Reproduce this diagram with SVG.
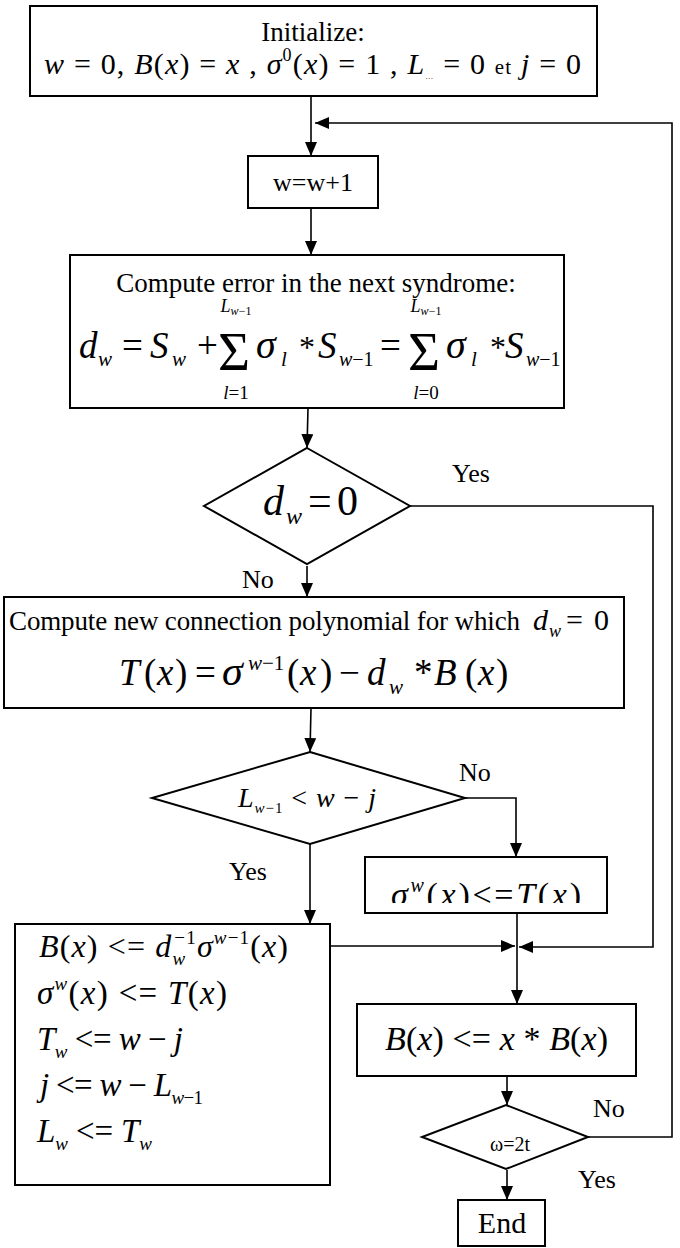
<svg xmlns="http://www.w3.org/2000/svg" width="680" height="1248" viewBox="0 0 680 1248">
<style>
.t{font-family:"Liberation Serif","Times New Roman",serif;fill:#000}
.i{font-style:italic}
.box{fill:#fff;stroke:#000;stroke-width:2}
.ln{fill:none;stroke:#000;stroke-width:1.6}
</style>
<defs>
<marker id="a" viewBox="0 0 14 12" refX="14" refY="6" markerWidth="14" markerHeight="12" markerUnits="userSpaceOnUse" orient="auto"><path d="M0,0 L14,6 L0,12 z" fill="#000"/></marker>
<clipPath id="cs"><rect x="366" y="858" width="240" height="45"/></clipPath>
</defs>
<rect width="680" height="1248" fill="#fff"/>

<g id="connectors">
<path class="ln" d="M311,96 V156" marker-end="url(#a)"/>
<path class="ln" d="M588,1137 H672 V123 H315" marker-end="url(#a)"/>
<path class="ln" d="M311,208 V255" marker-end="url(#a)"/>
<path class="ln" d="M308,408 L307,448" marker-end="url(#a)"/>
<path class="ln" d="M307,566 V597" marker-end="url(#a)"/>
<path class="ln" d="M410,506 H653 V947 H519" marker-end="url(#a)"/>
<path class="ln" d="M311,708 L310,752" marker-end="url(#a)"/>
<path class="ln" d="M465,798 H516 V857" marker-end="url(#a)"/>
<path class="ln" d="M310,844 V924" marker-end="url(#a)"/>
<path class="ln" d="M330,946 H515" marker-end="url(#a)"/>
<path class="ln" d="M517,913 V1004" marker-end="url(#a)"/>
<path class="ln" d="M507,1076 V1105" marker-end="url(#a)"/>
<path class="ln" d="M507,1170 V1200" marker-end="url(#a)"/>
<text class="t" x="452" y="482" font-size="26">Yes</text>
<text class="t" x="242" y="588" font-size="26">No</text>
<text class="t" x="459" y="781" font-size="26">No</text>
<text class="t" x="229" y="880" font-size="26">Yes</text>
<text class="t" x="593" y="1117" font-size="26">No</text>
<text class="t" x="578" y="1188" font-size="26">Yes</text>
</g>

<g id="init">
<rect class="box" x="30" y="6" width="567" height="90"/>
<text class="t" x="313" y="41" font-size="27" text-anchor="middle">Initialize:</text>
<text class="t" x="44" y="74" font-size="30" textLength="537" lengthAdjust="spacing"><tspan class="i">w</tspan> = 0, <tspan class="i">B</tspan>(<tspan class="i">x</tspan>) = <tspan class="i">x</tspan> , <tspan class="i">σ</tspan><tspan font-size="18" dy="-13">0</tspan><tspan dy="13">(</tspan><tspan class="i">x</tspan>) = 1 , <tspan class="i">L</tspan><tspan font-size="8" dy="5">…</tspan><tspan dy="-5"> = 0 </tspan><tspan font-size="21">et</tspan>  <tspan class="i">j</tspan> = 0</text>
</g>

<g id="inc">
<rect class="box" x="248" y="156" width="130" height="52"/>
<text class="t" x="313" y="191" font-size="26" text-anchor="middle">w=w+1</text>
</g>

<g id="error">
<rect class="box" x="70" y="255" width="494" height="153"/>
<text class="t" x="316" y="292" font-size="27" text-anchor="middle">Compute error in the next syndrome:</text>
<text class="t" font-size="37"><tspan class="i" x="79" y="358">d</tspan><tspan class="i" x="98" y="366" font-size="21">w</tspan><tspan x="122" y="358">=</tspan><tspan class="i" x="150" y="358">S</tspan><tspan class="i" x="172" y="366" font-size="21">w</tspan><tspan x="197" y="358">+</tspan><tspan class="i" x="256" y="358" font-size="40">σ</tspan><tspan class="i" x="281" y="366" font-size="21">l</tspan><tspan x="299" y="358" font-size="32">*</tspan><tspan class="i" x="318" y="358">S</tspan><tspan x="339" y="366" font-size="20"><tspan class="i">w</tspan>−1</tspan><tspan x="380" y="358">=</tspan><tspan class="i" x="446" y="358" font-size="40">σ</tspan><tspan class="i" x="471" y="366" font-size="21">l</tspan><tspan x="490" y="358" font-size="32">*</tspan><tspan class="i" x="505" y="358">S</tspan><tspan x="526" y="366" font-size="20"><tspan class="i">w</tspan>−1</tspan></text>
<text class="t" x="218" y="370" font-size="55">Σ</text>
<text class="t" x="408" y="370" font-size="55">Σ</text>
<text class="t" x="236" y="312" font-size="18" text-anchor="middle"><tspan class="i">L</tspan><tspan font-size="12" dy="3"><tspan class="i">w</tspan>−1</tspan></text>
<text class="t" x="426" y="312" font-size="18" text-anchor="middle"><tspan class="i">L</tspan><tspan font-size="12" dy="3"><tspan class="i">w</tspan>−1</tspan></text>
<text class="t" x="236" y="399" font-size="19" text-anchor="middle"><tspan class="i">l</tspan>=1</text>
<text class="t" x="426" y="399" font-size="19" text-anchor="middle"><tspan class="i">l</tspan>=0</text>
</g>

<g id="check-dw">
<polygon class="box" points="307,448 410,506 307,564 204,506"/>
<text class="t" font-size="42"><tspan class="i" x="263" y="515">d</tspan><tspan class="i" x="286" y="524" font-size="24">w</tspan><tspan x="308" y="515">=</tspan><tspan x="337" y="515">0</tspan></text>
</g>

<g id="newpoly">
<rect class="box" x="4" y="597" width="620" height="111"/>
<text class="t" x="9" y="630" font-size="27" textLength="511" lengthAdjust="spacing">Compute new connection polynomial for which</text>
<text class="t" font-size="30"><tspan class="i" x="533" y="630">d</tspan><tspan class="i" x="549" y="637" font-size="18">w</tspan><tspan x="566" y="630">=</tspan><tspan x="594" y="630">0</tspan></text>
<text class="t" font-size="37"><tspan class="i" x="119" y="685">T</tspan><tspan x="144" y="685">(</tspan><tspan class="i" x="157" y="685">x</tspan><tspan x="175" y="685">)</tspan><tspan x="195" y="685">=</tspan><tspan class="i" x="222" y="685" font-size="42">σ</tspan><tspan x="248" y="670" font-size="21"><tspan class="i">w</tspan>−1</tspan><tspan x="287" y="685">(</tspan><tspan class="i" x="300" y="685">x</tspan><tspan x="320" y="685">)</tspan><tspan x="339" y="685">−</tspan><tspan class="i" x="367" y="685">d</tspan><tspan class="i" x="389" y="694" font-size="21">w</tspan><tspan x="414" y="685">*</tspan><tspan class="i" x="434" y="685">B</tspan><tspan x="465" y="685">(</tspan><tspan class="i" x="478" y="685">x</tspan><tspan x="496" y="685">)</tspan></text>
</g>

<g id="check-L">
<polygon class="box" points="310,752 465,798 310,844 152,798"/>
<text class="t" x="238" y="807" font-size="28" textLength="138" lengthAdjust="spacing"><tspan class="i">L</tspan><tspan font-size="15" dy="6"><tspan class="i">w</tspan>−1</tspan><tspan dy="-6"> &lt; </tspan><tspan class="i">w</tspan> − <tspan class="i">j</tspan></text>
</g>

<g id="sigma-box">
<rect class="box" x="365" y="857" width="242" height="56"/>
<text class="t" x="391" y="906" font-size="34" textLength="190" lengthAdjust="spacing" clip-path="url(#cs)"><tspan class="i">σ</tspan><tspan class="i" font-size="20" dy="-14">w</tspan><tspan dy="14">(</tspan><tspan class="i">x</tspan>)&lt;=<tspan class="i">T</tspan>(<tspan class="i">x</tspan>)</text>
</g>

<g id="update-box">
<rect class="box" x="15" y="924" width="315" height="261"/>
<text class="t" x="39" y="957" font-size="32" textLength="249" lengthAdjust="spacing"><tspan class="i">B</tspan>(<tspan class="i">x</tspan>) &lt;= <tspan class="i">d</tspan><tspan class="i" font-size="19" dy="8">w</tspan><tspan font-size="19" dx="-12" dy="-21">−1</tspan><tspan class="i" dy="13">σ</tspan><tspan font-size="19" dy="-13"><tspan class="i">w</tspan>−1</tspan><tspan dy="13">(</tspan><tspan class="i">x</tspan>)</text>
<text class="t" x="37" y="1004" font-size="33" textLength="190" lengthAdjust="spacing"><tspan class="i">σ</tspan><tspan class="i" font-size="19" dy="-14">w</tspan><tspan dy="14">(</tspan><tspan class="i">x</tspan>) &lt;= <tspan class="i">T</tspan>(<tspan class="i">x</tspan>)</text>
<text class="t" x="37" y="1050" font-size="33" textLength="146" lengthAdjust="spacing"><tspan class="i">T</tspan><tspan class="i" font-size="19" dy="8">w</tspan><tspan dy="-8"> &lt;= </tspan><tspan class="i">w</tspan> − <tspan class="i">j</tspan></text>
<text class="t" x="40" y="1096" font-size="33" textLength="163" lengthAdjust="spacing"><tspan class="i">j</tspan> &lt;= <tspan class="i">w</tspan> − <tspan class="i">L</tspan><tspan font-size="19" dy="8"><tspan class="i">w</tspan>−1</tspan></text>
<text class="t" x="37" y="1142" font-size="33" textLength="115" lengthAdjust="spacing"><tspan class="i">L</tspan><tspan class="i" font-size="19" dy="8">w</tspan><tspan dy="-8"> &lt;= </tspan><tspan class="i">T</tspan><tspan class="i" font-size="19" dy="8">w</tspan></text>
</g>

<g id="shift-box">
<rect class="box" x="357" y="1004" width="279" height="72"/>
<text class="t" x="385" y="1050" font-size="34" textLength="223" lengthAdjust="spacing"><tspan class="i">B</tspan>(<tspan class="i">x</tspan>) &lt;= <tspan class="i">x</tspan> * <tspan class="i">B</tspan>(<tspan class="i">x</tspan>)</text>
</g>

<g id="check-w">
<polygon class="box" points="506,1105 588,1137 506,1169 422,1137"/>
<text class="t" x="510" y="1151" font-size="20" text-anchor="middle">ω=2t</text>
</g>

<g id="end">
<rect class="box" x="458" y="1200" width="87" height="46"/>
<text class="t" x="502" y="1233" font-size="30" text-anchor="middle">End</text>
</g>
</svg>
